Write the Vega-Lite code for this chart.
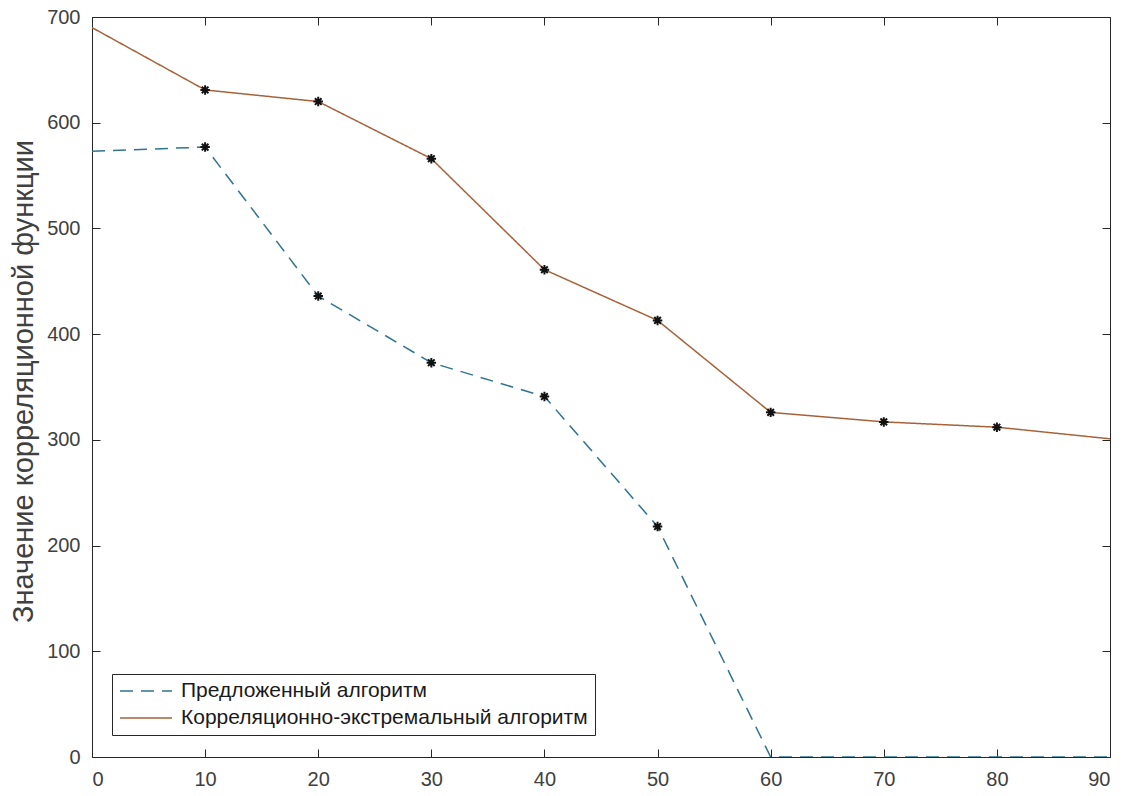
{
  "$schema": "https://vega.github.io/schema/vega-lite/v6.json",
  "width": 1018,
  "height": 740,
  "autosize": {"type": "none"},
  "padding": {"left": 92, "top": 17, "right": 18, "bottom": 39},
  "background": "white",
  "config": {
    "font": "Liberation Sans",
    "view": {"stroke": null},
    "axis": {
      "grid": false,
      "domainColor": "#262626",
      "domainWidth": 1,
      "tickColor": "#262626",
      "tickWidth": 1,
      "tickSize": -8,
      "labelFont": "Liberation Sans",
      "labelFontSize": 20,
      "labelColor": "#404040",
      "titleFont": "Liberation Sans",
      "titleFontSize": 29,
      "titleFontWeight": "normal",
      "titleColor": "#404040"
    }
  },
  "data": {
    "values": [
      {"x": 0, "y": 573, "series": "Предложенный алгоритм"},
      {"x": 10, "y": 577, "series": "Предложенный алгоритм"},
      {"x": 20, "y": 436, "series": "Предложенный алгоритм"},
      {"x": 30, "y": 373, "series": "Предложенный алгоритм"},
      {"x": 40, "y": 341, "series": "Предложенный алгоритм"},
      {"x": 50, "y": 218, "series": "Предложенный алгоритм"},
      {"x": 60, "y": 0, "series": "Предложенный алгоритм"},
      {"x": 70, "y": 0, "series": "Предложенный алгоритм"},
      {"x": 80, "y": 0, "series": "Предложенный алгоритм"},
      {"x": 90, "y": 0, "series": "Предложенный алгоритм"},
      {"x": 0, "y": 690, "series": "Корреляционно-экстремальный алгоритм"},
      {"x": 10, "y": 631, "series": "Корреляционно-экстремальный алгоритм"},
      {"x": 20, "y": 620, "series": "Корреляционно-экстремальный алгоритм"},
      {"x": 30, "y": 566, "series": "Корреляционно-экстремальный алгоритм"},
      {"x": 40, "y": 461, "series": "Корреляционно-экстремальный алгоритм"},
      {"x": 50, "y": 413, "series": "Корреляционно-экстремальный алгоритм"},
      {"x": 60, "y": 326, "series": "Корреляционно-экстремальный алгоритм"},
      {"x": 70, "y": 317, "series": "Корреляционно-экстремальный алгоритм"},
      {"x": 80, "y": 312, "series": "Корреляционно-экстремальный алгоритм"},
      {"x": 90, "y": 301, "series": "Корреляционно-экстремальный алгоритм"}
    ]
  },
  "layer": [
    {
      "mark": {"type": "line", "strokeWidth": 1.5, "clip": true},
      "encoding": {
        "x": {"field": "x", "type": "quantitative", "scale": {"domain": [0, 90], "nice": false},
              "axis": {"orient": "bottom", "values": [0,10,20,30,40,50,60,70,80,90], "title": null, "labelPadding": 20}},
        "y": {"field": "y", "type": "quantitative", "scale": {"domain": [0, 700], "nice": false},
              "axis": {"orient": "left", "values": [0,100,200,300,400,500,600,700], "title": "Значение корреляционной функции", "labelPadding": 20, "titlePadding": 8, "titleY": 364}},
        "color": {"field": "series", "type": "nominal",
                  "scale": {"domain": ["Предложенный алгоритм", "Корреляционно-экстремальный алгоритм"], "range": ["#2f7391", "#a8623a"]},
                  "legend": {
                    "title": null, "orient": "none", "legendX": 20, "legendY": 657,
                    "symbolType": "stroke", "symbolSize": 2704, "symbolStrokeWidth": 1.5,
                    "clipHeight": 20,
                    "labelFont": "Liberation Sans", "labelFontSize": 21, "labelColor": "#1a1a1a", "labelLimit": 0,
                    "strokeColor": "#262626", "fillColor": "white", "padding": 7,
                    "rowPadding": 6, "labelOffset": 8
                  }},
        "strokeDash": {"field": "series", "type": "nominal",
                       "scale": {"domain": ["Предложенный алгоритм", "Корреляционно-экстремальный алгоритм"], "range": [[13, 8], [1, 0]]},
                       "legend": null}
      }
    },
    {
      "transform": [{"filter": "datum.x > 0 && datum.x < 90 && datum.y > 0"}],
      "mark": {"type": "point", "shape": "M-1,0L1,0M0,-1L0,1M-0.7,-0.7L0.7,0.7M-0.7,0.7L0.7,-0.7", "stroke": "#111111", "strokeWidth": 2, "size": 90, "filled": false, "opacity": 1},
      "encoding": {
        "x": {"field": "x", "type": "quantitative", "scale": {"domain": [0, 90], "nice": false},
              "axis": {"orient": "top", "values": [0,10,20,30,40,50,60,70,80,90], "labels": false, "title": null}},
        "y": {"field": "y", "type": "quantitative", "scale": {"domain": [0, 700], "nice": false},
              "axis": {"orient": "right", "values": [0,100,200,300,400,500,600,700], "labels": false, "title": null}}
      }
    }
  ],
  "resolve": {"axis": {"x": "independent", "y": "independent"}}
}
